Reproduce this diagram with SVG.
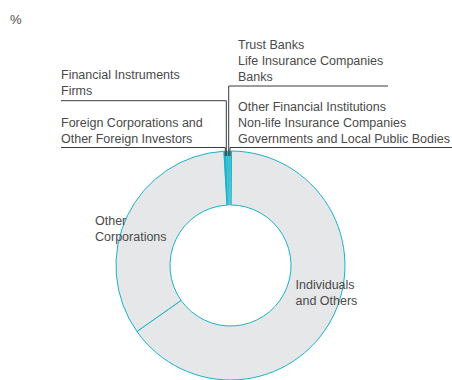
<svg xmlns="http://www.w3.org/2000/svg" width="452" height="380" viewBox="0 0 452 380">
<style>
text{font-family:"Liberation Sans",Arial,sans-serif;font-size:12.5px;fill:#4a4a4a}
.seg{fill:#e6e7e8;stroke:#1ab2c9;stroke-width:1}
.sl{fill:#1ab2c9;stroke:#1ab2c9;stroke-width:0.6}
.ld{fill:none;stroke:#3a3a3a;stroke-width:1}
</style>
<rect width="452" height="380" fill="#fff"/>
<text x="10" y="24" style="font-size:13px">%</text>
<g id="ring">
<g id="individuals">
<path class="seg" d="M231.5 151 A114.5 114.5 0 1 1 136.9 331.5 L181.1 300.4 A60.5 60.5 0 1 0 231.03 205 Z"/>
<text x="295.5" y="289">Individuals</text>
<text x="295.5" y="305">and Others</text>
</g>
<g id="other-corporations">
<path class="seg" d="M136.9 331.5 A114.5 114.5 0 0 1 223.9 151.2 L227 205.1 A60.5 60.5 0 0 0 181.1 300.4 Z"/>
<text x="95" y="225">Other</text>
<text x="95" y="241">Corporations</text>
</g>
<g id="small-segments">
<path class="sl" d="M223.9 151.2 A114.5 114.5 0 0 1 231.5 151 L231.03 205 A60.5 60.5 0 0 0 227 205.1 Z"/>
<path d="M226.5 151 L228.4 205 M228.6 151 L229.5 205 M230.2 151 L230.4 205" stroke="#7fd6e3" stroke-width="0.6" fill="none"/>
</g>
</g>
<g id="labels">
<g id="financial-instruments">
<text x="61" y="79">Financial Instruments</text>
<text x="61" y="95">Firms</text>
</g>
<g id="foreign">
<text x="61" y="127">Foreign Corporations and</text>
<text x="61" y="143">Other Foreign Investors</text>
</g>
<g id="trust-life-banks">
<text x="238" y="48.5">Trust Banks</text>
<text x="238" y="64.5">Life Insurance Companies</text>
<text x="238" y="80.5">Banks</text>
</g>
<g id="other-fin-gov">
<text x="238" y="111">Other Financial Institutions</text>
<text x="238" y="127">Non-life Insurance Companies</text>
<text x="238" y="143">Governments and Local Public Bodies</text>
</g>
</g>
<g id="connectors">
<path class="ld" d="M61 100.7 H226.3 V156"/>
<path class="ld" d="M61 147.5 H225.3 V156"/>
<path class="ld" d="M388 86 H228.7 V156"/>
<path class="ld" d="M452 147.5 H230 V156"/>
</g>
</svg>
